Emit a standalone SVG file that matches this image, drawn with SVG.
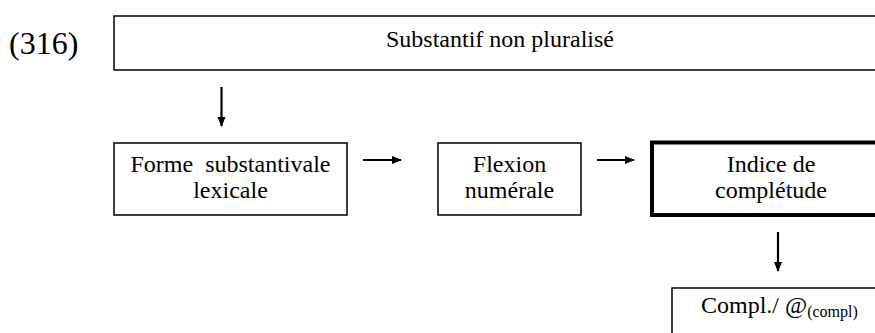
<svg xmlns="http://www.w3.org/2000/svg" width="875" height="333" viewBox="0 0 875 333" font-family="'Liberation Serif', 'Times New Roman', Times, serif">
<style>
text{font-family:'Liberation Serif','Times New Roman',Times,serif;fill:#000;font-size:24px}
.c{text-anchor:middle}
.big{font-size:32px}
.sub{font-size:16px}
.box{fill:#fff;stroke:#000;stroke-width:1.5}
.bold{fill:#fff;stroke:#000;stroke-width:4}
.arr{stroke:#000;stroke-width:2.2;fill:none}
</style>
<defs>
<marker id="ah" markerUnits="userSpaceOnUse" markerWidth="10" markerHeight="10" viewBox="0 0 10 10" refX="9" refY="5" orient="auto">
<path d="M0,1 L10,5 L0,9 Z" fill="#000"/>
</marker>
</defs>
<rect width="875" height="333" fill="#fff"/>
<text class="big" x="9" y="54">(316)</text>
<g id="n-top">
<rect class="box" x="114" y="16" width="780" height="54"/>
<text class="c" x="500" y="47">Substantif non pluralisé</text>
</g>
<g id="n-forme">
<rect class="box" x="114" y="143" width="233" height="72"/>
<text class="c" x="230.5" y="172" xml:space="preserve">Forme  substantivale</text>
<text class="c" x="230.5" y="198">lexicale</text>
</g>
<g id="n-flexion">
<rect class="box" x="438" y="143" width="143" height="72"/>
<text class="c" x="509.5" y="172">Flexion</text>
<text class="c" x="509.5" y="198">numérale</text>
</g>
<g id="n-indice">
<rect class="bold" x="652" y="142.5" width="240" height="72.5"/>
<text class="c" x="771" y="172">Indice de</text>
<text class="c" x="771" y="198">complétude</text>
</g>
<g id="n-compl">
<rect class="box" x="672" y="288" width="220" height="60"/>
<text x="701" y="313">Compl./ @<tspan class="sub" dy="4">(compl)</tspan></text>
</g>
<g id="connectors">
<line class="arr" x1="221.5" y1="87" x2="221.5" y2="126" marker-end="url(#ah)"/>
<line class="arr" x1="363" y1="160" x2="401" y2="160" marker-end="url(#ah)"/>
<line class="arr" x1="597" y1="160" x2="634" y2="160" marker-end="url(#ah)"/>
<line class="arr" x1="778" y1="232" x2="778" y2="271" marker-end="url(#ah)"/>
</g>
</svg>
